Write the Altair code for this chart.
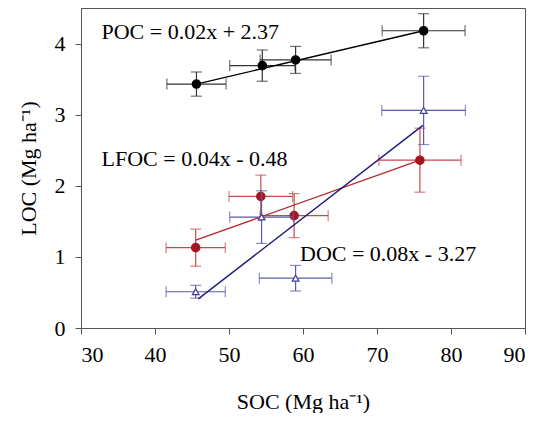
import altair as alt
import pandas as pd

# ---- data ----
series = ["POC", "LFOC", "DOC"]
soc = {
    "POC": [45.6, 54.5, 59.0, 76.3],
    "LFOC": [45.5, 54.3, 58.8, 75.8],
    "DOC": [45.5, 54.4, 59.0, 76.3],
}
soc_err = {
    "POC": [4.0, 4.4, 4.8, 5.6],
    "LFOC": [4.0, 4.3, 4.6, 5.55],
    "DOC": [4.0, 4.3, 4.9, 5.65],
}
loc = {
    "POC": [3.43, 3.69, 3.77, 4.18],
    "LFOC": [1.13, 1.85, 1.58, 2.36],
    "DOC": [0.51, 1.56, 0.70, 3.06],
}
loc_err = {
    "POC": [0.17, 0.22, 0.19, 0.24],
    "LFOC": [0.26, 0.30, 0.31, 0.45],
    "DOC": [0.09, 0.37, 0.18, 0.48],
}
# regression line end points
fit_x = {"POC": [45.6, 76.3], "LFOC": [45.5, 75.8], "DOC": [45.85, 76.2]}
fit_y = {"POC": [3.43, 4.18], "LFOC": [1.235, 2.36], "DOC": [0.41, 2.85]}
equations = ["POC = 0.02x + 2.37", "LFOC = 0.04x - 0.48", "DOC = 0.08x - 3.27"]

x_ticks = [30, 40, 50, 60, 70, 80, 90]
y_ticks = [0, 1, 2, 3, 4]

styles = {
    "POC": dict(line="#000000", err="#333333", fill="#000000", stroke="#000000", shape="circle"),
    "LFOC": dict(line="#b52a2a", err="#c84848", fill="#a8141e", stroke="#a8141e", shape="circle"),
    "DOC": dict(line="#1c1c78", err="#5a5aa6", fill="#ffffff", stroke="#3c3c94", shape="triangle-up"),
}
label_pos = {"POC": (20.5, 30.5), "LFOC": (20.5, 157.5), "DOC": (219, 253)}

FONT = "Liberation Serif"
xscale = alt.Scale(domain=[30, 90], nice=False, zero=False)
yscale = alt.Scale(domain=[0, 4.5], nice=False, zero=False)

layers = []
for s, eq in zip(series, equations):
    st = styles[s]
    df = pd.DataFrame({"x": soc[s], "y": loc[s], "xe": soc_err[s], "ye": loc_err[s]})
    df["xlo"] = df.x - df.xe
    df["xhi"] = df.x + df.xe
    df["ylo"] = df.y - df.ye
    df["yhi"] = df.y + df.ye
    base = alt.Chart(df)
    X = alt.X("x:Q", scale=xscale)
    Y = alt.Y("y:Q", scale=yscale)
    # horizontal error bars
    layers.append(base.mark_rule(color=st["err"], strokeWidth=1.2).encode(
        x=alt.X("xlo:Q", scale=xscale), x2="xhi:Q", y=Y))
    layers.append(base.mark_tick(color=st["err"], orient="vertical", size=11, thickness=1.2).encode(
        x=alt.X("xlo:Q", scale=xscale), y=Y))
    layers.append(base.mark_tick(color=st["err"], orient="vertical", size=11, thickness=1.2).encode(
        x=alt.X("xhi:Q", scale=xscale), y=Y))
    # vertical error bars
    layers.append(base.mark_rule(color=st["err"], strokeWidth=1.2).encode(
        x=X, y=alt.Y("ylo:Q", scale=yscale), y2="yhi:Q"))
    layers.append(base.mark_tick(color=st["err"], orient="horizontal", size=11, thickness=1.2).encode(
        x=X, y=alt.Y("ylo:Q", scale=yscale)))
    layers.append(base.mark_tick(color=st["err"], orient="horizontal", size=11, thickness=1.2).encode(
        x=X, y=alt.Y("yhi:Q", scale=yscale)))
    # regression line
    fit = pd.DataFrame({"x": fit_x[s], "y": fit_y[s]})
    layers.append(alt.Chart(fit).mark_line(color=st["line"], strokeWidth=1.4).encode(x=X, y=Y))
    # points
    size = 70 if st["shape"] == "circle" else 45
    layers.append(base.mark_point(shape=st["shape"], filled=True, fill=st["fill"], stroke=st["stroke"],
                                  strokeWidth=1.2, opacity=1, size=size).encode(x=X, y=Y))
    # equation label
    lx, ly = label_pos[s]
    layers.append(alt.Chart(pd.DataFrame({"t": [eq]})).mark_text(
        font=FONT, fontSize=22, align="left", baseline="alphabetic", color="#000000").encode(
        x=alt.value(lx), y=alt.value(ly), text="t:N"))

chart = alt.layer(*layers).encode(
    x=alt.X("x:Q", scale=xscale, axis=alt.Axis(values=x_ticks, title="SOC (Mg ha⁻¹)", format="d")),
    y=alt.Y("y:Q", scale=yscale, axis=alt.Axis(values=y_ticks, title="LOC (Mg ha⁻¹)", format="d")),
).properties(
    width=444, height=320,
    autosize=alt.AutoSizeParams(type="none"),
    padding={"left": 73, "top": 0, "right": 5, "bottom": 85},
).configure_view(
    stroke="#555555", strokeWidth=1
).configure_axis(
    grid=False, domainColor="#555555", tickColor="#555555", tickSize=6, domainWidth=1,
    labelFont=FONT, labelFontSize=22, labelColor="#000000",
    titleFont=FONT, titleFontSize=22, titleFontWeight="normal", titleColor="#000000",
).configure_axisX(labelPadding=10, titlePadding=26).configure_axisY(labelPadding=10, titlePadding=14)

chart.save("out.html", embed_options={"renderer": "svg", "actions": False})
